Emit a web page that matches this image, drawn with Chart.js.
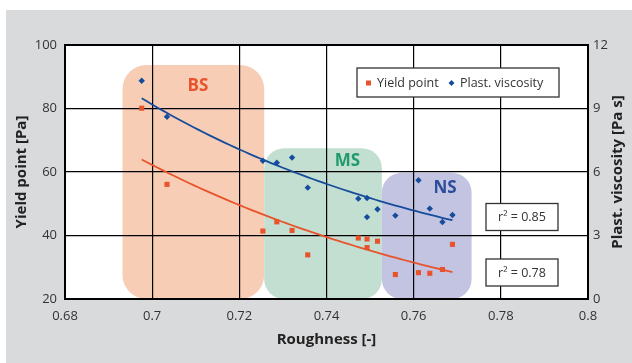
<!DOCTYPE html>
<html>
<head>
<meta charset="utf-8">
<script src="https://cdn.jsdelivr.net/npm/chart.js@4.4.1/dist/chart.umd.min.js"></script>
<style>
  html, body { margin: 0; padding: 0; background: #ffffff; }
  #wrap { width: 632px; height: 363px; }
</style>
</head>
<body>
<div id="wrap"><canvas id="c" width="632" height="363"></canvas></div>
<script>
// Roughness of each sample and its measured rheology
const roughness = [0.6976, 0.7034, 0.7254, 0.7286, 0.7321, 0.7357, 0.7473, 0.7493, 0.7493, 0.7517, 0.7558, 0.7611, 0.7637, 0.7666, 0.7689];
const yieldPoint = [80.1, 56.1, 41.4, 44.3, 41.6, 33.9, 39.2, 38.9, 36.2, 38.2, 27.7, 28.3, 28.1, 29.3, 37.2];
const roughnessVisc = [0.6976, 0.7034, 0.7254, 0.7286, 0.7321, 0.7357, 0.7473, 0.7493, 0.7493, 0.7517, 0.7558, 0.7611, 0.7637, 0.7666, 0.7689];
const plastViscosity = [10.31, 8.61, 6.53, 6.44, 6.68, 5.26, 4.74, 4.77, 3.87, 4.24, 3.94, 5.61, 4.27, 3.64, 3.97];

// Coefficients of determination of the two exponential trend lines
const rSquaredVisc = 0.85;
const rSquaredYield = 0.78;

// Sand groups: roughness range and the yield point value of the top edge
const groupNames = ['BS', 'MS', 'NS'];
const groupFrom = [0.6932, 0.7257, 0.7527];
const groupTo = [0.7257, 0.7527, 0.7733];
const groupTop = [93.7, 67.5, 59.8];
const groupLabelX = [0.7105, 0.7448, 0.7672];
const groupLabelY = [86.9, 63.4, 54.9];

// Axis ticks
const xTicks = [0.68, 0.70, 0.72, 0.74, 0.76, 0.78, 0.80];
const xTickLabels = ['0.68', '0.7', '0.72', '0.74', '0.76', '0.78', '0.8'];
const yTicks = [20, 40, 60, 80, 100];
const yTickLabels = ['20', '40', '60', '80', '100'];
const y2Ticks = [0, 3, 6, 9, 12];
const y2TickLabels = ['0', '3', '6', '9', '12'];
const y2Title = 'Plast. viscosity [Pa s]';

const RED = '#e9532b';
const BLUE = '#164c9c';
const groupFill = ['#f7cdb5', '#c2dfd2', '#c3c4e1'];
const groupText = ['#e9532b', '#1f9a6b', '#2c4d9b'];
const FONT = '"Open Sans", "Noto Sans", sans-serif';

// Least-squares fit of ln(y) = ln(a) + b*x, sampled along the data range
function expTrend(xs, ys, steps) {
  const n = xs.length;
  const lx = xs.reduce((s, v) => s + v, 0) / n;
  const ly = ys.reduce((s, v) => s + Math.log(v), 0) / n;
  let sxy = 0, sxx = 0;
  for (let i = 0; i < n; i++) {
    sxy += (xs[i] - lx) * (Math.log(ys[i]) - ly);
    sxx += (xs[i] - lx) * (xs[i] - lx);
  }
  const b = sxy / sxx;
  const a = ly - b * lx;
  const lo = Math.min(...xs), hi = Math.max(...xs);
  const pts = [];
  for (let k = 0; k <= steps; k++) {
    const x = lo + (hi - lo) * k / steps;
    pts.push({ x: x, y: Math.exp(a + b * x) });
  }
  return pts;
}

const yieldData = roughness.map((x, i) => ({ x: x, y: yieldPoint[i] }));
const viscData = roughnessVisc.map((x, i) => ({ x: x, y: plastViscosity[i] }));

const backgroundPlugin = {
  id: 'panelBackground',
  beforeDraw(chart) {
    const { ctx, chartArea: a, scales } = chart;
    ctx.save();
    ctx.fillStyle = '#ffffff';
    ctx.fillRect(0, 0, chart.width, chart.height);
    ctx.fillStyle = '#d9dadc';
    ctx.fillRect(6, 10, chart.width - 6, chart.height - 10);
    ctx.fillStyle = '#ffffff';
    ctx.fillRect(a.left, a.top, a.right - a.left, a.bottom - a.top);
    // sand group bands
    for (let i = 0; i < groupNames.length; i++) {
      const x0 = scales.x.getPixelForValue(groupFrom[i]);
      const x1 = scales.x.getPixelForValue(groupTo[i]);
      const y0 = scales.y.getPixelForValue(groupTop[i]);
      const y1 = a.bottom;
      const r = i === 0 ? 24 : 20;
      ctx.fillStyle = groupFill[i];
      ctx.beginPath();
      ctx.roundRect(x0, y0, x1 - x0, y1 - y0, r);
      ctx.fill();
    }
    ctx.restore();
  }
};

const overlayPlugin = {
  id: 'overlay',
  beforeDatasetsDraw(chart) {
    const { ctx, chartArea: a, scales } = chart;
    ctx.save();
    // group names
    ctx.font = 'bold 17px ' + FONT;
    ctx.textAlign = 'center';
    ctx.textBaseline = 'middle';
    for (let i = 0; i < groupNames.length; i++) {
      ctx.fillStyle = groupText[i];
      ctx.fillText(groupNames[i], scales.x.getPixelForValue(groupLabelX[i]), scales.y.getPixelForValue(groupLabelY[i]));
    }
    // legend box
    ctx.fillStyle = '#ffffff';
    ctx.fillRect(357, 68, 202, 29);
    ctx.strokeStyle = '#333333';
    ctx.lineWidth = 1.3;
    ctx.strokeRect(357, 68, 202, 29);
    ctx.font = '12.5px ' + FONT;
    ctx.textAlign = 'left';
    const ly = 83;
    ctx.fillStyle = RED;
    ctx.fillRect(366, ly - 2.5, 5, 5);
    ctx.fillStyle = '#333333';
    ctx.fillText(chart.data.datasets[0].label, 377, ly);
    ctx.fillStyle = BLUE;
    ctx.beginPath();
    ctx.moveTo(451.5, ly - 3); ctx.lineTo(454.5, ly); ctx.lineTo(451.5, ly + 3); ctx.lineTo(448.5, ly);
    ctx.closePath(); ctx.fill();
    ctx.fillStyle = '#333333';
    ctx.fillText(chart.data.datasets[1].label, 460, ly);
    // r² boxes
    const boxes = [[203.5, rSquaredVisc], [259, rSquaredYield]];
    ctx.textAlign = 'center';
    for (const [top, r2] of boxes) {
      ctx.fillStyle = '#ffffff';
      ctx.fillRect(486, top, 72, 27);
      ctx.strokeStyle = '#333333';
      ctx.lineWidth = 1.3;
      ctx.strokeRect(486, top, 72, 27);
      ctx.fillStyle = '#333333';
      ctx.fillText('r\u00b2 = ' + r2.toFixed(2), 522, top + 14);
    }
    ctx.restore();
  },
  afterDraw(chart) {
    const { ctx, chartArea: a } = chart;
    ctx.save();
    ctx.strokeStyle = '#000000';
    ctx.lineWidth = 2;
    ctx.strokeRect(a.left, a.top, a.right - a.left, a.bottom - a.top);
    // right axis title, reading upwards like the left one
    ctx.translate(618, (a.top + a.bottom) / 2);
    ctx.rotate(-Math.PI / 2);
    ctx.font = 'bold 15px ' + FONT;
    ctx.fillStyle = '#222222';
    ctx.textAlign = 'center';
    ctx.textBaseline = 'middle';
    ctx.fillText(y2Title, 0, 0);
    ctx.restore();
  }
};

function fixedTicks(values) {
  return function (scale) { scale.ticks = values.map(v => ({ value: v })); };
}

new Chart(document.getElementById('c'), {
  type: 'scatter',
  data: {
    datasets: [
      {
        label: 'Yield point', data: yieldData, yAxisID: 'y',
        pointStyle: 'rect', pointRadius: 3.6, pointHoverRadius: 3.6,
        backgroundColor: RED, borderColor: RED, borderWidth: 0, order: 1
      },
      {
        label: 'Plast. viscosity', data: viscData, yAxisID: 'y2',
        pointStyle: 'rectRot', pointRadius: 3.2, pointHoverRadius: 3.2,
        backgroundColor: BLUE, borderColor: BLUE, borderWidth: 0, order: 1
      },
      {
        type: 'line', label: 'Yield point trend', data: expTrend(roughness, yieldPoint, 60), yAxisID: 'y',
        borderColor: RED, borderWidth: 1.8, pointRadius: 0, fill: false, tension: 0, order: 2
      },
      {
        type: 'line', label: 'Plast. viscosity trend', data: expTrend(roughnessVisc, plastViscosity, 60), yAxisID: 'y2',
        borderColor: BLUE, borderWidth: 1.8, pointRadius: 0, fill: false, tension: 0, order: 2
      }
    ]
  },
  options: {
    responsive: false,
    animation: false,
    events: [],
    layout: { padding: { top: 45, left: 0, right: 0, bottom: 0 } },
    plugins: { legend: { display: false }, tooltip: { enabled: false } },
    scales: {
      x: {
        type: 'linear', min: 0.68, max: 0.8,
        afterBuildTicks: fixedTicks(xTicks),
        afterFit: s => { s.height = 64; },
        grid: { color: '#000000', lineWidth: 1.2, drawTicks: false },
        border: { display: false },
        ticks: {
          padding: 9, color: '#333333', font: { family: FONT, size: 13 },
          maxRotation: 0, callback: (v, i) => xTickLabels[i]
        },
        title: {
          display: true, text: 'Roughness [-]', color: '#222222',
          font: { family: FONT, size: 15, weight: 'bold' }, padding: { top: 0, bottom: 14 }
        }
      },
      y: {
        type: 'linear', position: 'left', min: 20, max: 100,
        afterBuildTicks: fixedTicks(yTicks),
        afterFit: s => { s.width = 65; },
        grid: { color: '#000000', lineWidth: 1.2, drawTicks: false },
        border: { display: false },
        ticks: {
          padding: 8, color: '#333333', font: { family: FONT, size: 13 },
          callback: (v, i) => yTickLabels[i]
        },
        title: {
          display: true, text: 'Yield point [Pa]', color: '#222222',
          font: { family: FONT, size: 15, weight: 'bold' }, padding: { top: 13, bottom: 0 }
        }
      },
      y2: {
        type: 'linear', position: 'right', min: 0, max: 12,
        afterBuildTicks: fixedTicks(y2Ticks),
        afterFit: s => { s.width = 44; },
        grid: { display: false, drawTicks: false },
        border: { display: false },
        ticks: {
          padding: 5, color: '#333333', font: { family: FONT, size: 13 },
          callback: (v, i) => y2TickLabels[i]
        },
        title: { display: false }
      }
    }
  },
  plugins: [backgroundPlugin, overlayPlugin]
});
</script>
</body>
</html>
